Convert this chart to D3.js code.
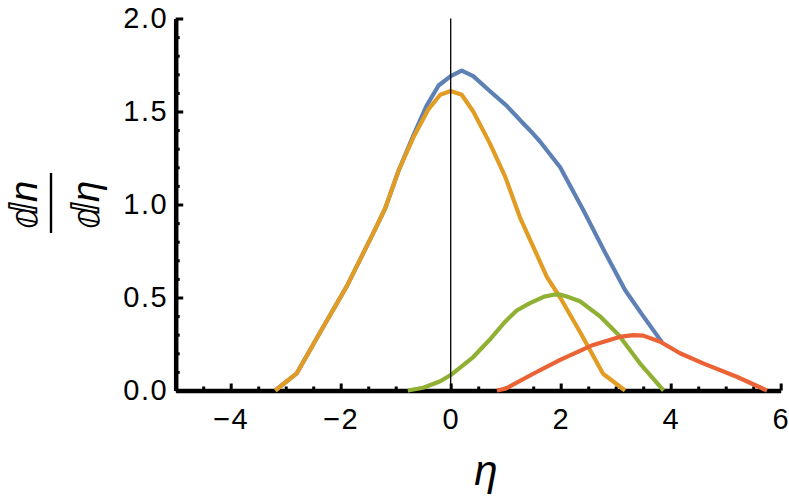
<!DOCTYPE html>
<html>
<head>
<meta charset="utf-8">
<script src="https://cdn.jsdelivr.net/npm/d3@7"></script>
<style>
  html, body { margin: 0; padding: 0; background: #fff; }
  svg { display: block; }
  .tick text { font-family: "Liberation Sans", Arial, sans-serif; font-size: 29px; letter-spacing: 1.5px; fill: #000; }
</style>
</head>
<body>
<svg id="chart" width="789" height="498"></svg>
<script>
// eta positions and dn/deta values, one pair of arrays per curve
const blueEta   = [-3.19, -2.8, -2.35, -1.89, -1.41, -1.19, -0.95, -0.68, -0.44, -0.22, 0, 0.2, 0.41, 0.71, 1.02, 1.29, 1.5, 1.62, 1.99, 2.41, 2.81, 3.17, 3.5, 3.84];
const blueVal   = [0, 0.092, 0.325, 0.56, 0.845, 0.98, 1.18, 1.37, 1.53, 1.64, 1.69, 1.72, 1.69, 1.61, 1.53, 1.445, 1.38, 1.34, 1.2, 0.97, 0.74, 0.54, 0.4, 0.26];

const orangeEta = [-3.19, -2.8, -2.35, -1.89, -1.41, -1.19, -0.95, -0.68, -0.41, -0.19, 0, 0.2, 0.41, 0.71, 0.99, 1.26, 1.75, 1.99, 2.38, 2.77, 3.17];
const orangeVal = [0, 0.092, 0.325, 0.56, 0.845, 0.98, 1.18, 1.36, 1.51, 1.59, 1.61, 1.59, 1.5, 1.33, 1.15, 0.93, 0.61, 0.5, 0.3, 0.09, 0];

const greenEta  = [-0.78, -0.5, -0.19, 0, 0.41, 0.7, 0.99, 1.2, 1.44, 1.7, 1.87, 2.0, 2.11, 2.35, 2.71, 3.05, 3.44, 3.84, 3.87];
const greenVal  = [0, 0.015, 0.05, 0.083, 0.18, 0.27, 0.37, 0.43, 0.47, 0.505, 0.515, 0.515, 0.505, 0.48, 0.4, 0.3, 0.146, 0.01, 0];

const redEta    = [0.84, 1.0, 1.5, 1.99, 2.59, 3.1, 3.32, 3.5, 3.81, 4.17, 4.59, 5.2, 5.75];
const redVal    = [0, 0.01, 0.09, 0.165, 0.245, 0.29, 0.298, 0.295, 0.262, 0.2, 0.146, 0.074, 0];

const xMajor = [-4, -2, 0, 2, 4, 6];
const xMinor = [-4.5, -3.5, -3, -2.5, -1.5, -1, -0.5, 0.5, 1, 1.5, 2.5, 3, 3.5, 4.5, 5, 5.5];
const yMajor = [0, 0.5, 1, 1.5, 2];
const yMinor = [0.1, 0.2, 0.3, 0.4, 0.6, 0.7, 0.8, 0.9, 1.1, 1.2, 1.3, 1.4, 1.6, 1.7, 1.8, 1.9];

const series = [
  { eta: blueEta,   val: blueVal,   color: "#5e81b5" },
  { eta: orangeEta, val: orangeVal, color: "#e19c24" },
  { eta: greenEta,  val: greenVal,  color: "#8fb032" },
  { eta: redEta,    val: redVal,    color: "#eb6235" }
];

const svg = d3.select("#chart");

const x = d3.scaleLinear().domain([-5, 6]).range([175.7, 780.7]);
const y = d3.scaleLinear().domain([0, 2]).range([390.5, 18.5]);

// axes, ticks pointing inward like Mathematica
const xAxisG = svg.append("g").attr("transform", `translate(0,${y(0)})`);
xAxisG.append("g")
  .call(d3.axisBottom(x).tickValues(xMinor).tickFormat("").tickSize(-4).tickSizeOuter(0))
  .call(g => g.select(".domain").remove())
  .call(g => g.selectAll(".tick line").attr("stroke-width", 3));
xAxisG.append("g")
  .call(d3.axisBottom(x).tickValues(xMajor).tickSize(-7).tickSizeOuter(0).tickPadding(17.5))
  .call(g => g.select(".domain").attr("stroke-width", 4.5))
  .call(g => g.selectAll(".tick line").attr("stroke-width", 3));

const yAxisG = svg.append("g").attr("transform", `translate(${x(-5)},0)`);
yAxisG.append("g")
  .call(d3.axisLeft(y).tickValues(yMinor).tickFormat("").tickSize(-4).tickSizeOuter(0))
  .call(g => g.select(".domain").remove())
  .call(g => g.selectAll(".tick line").attr("stroke-width", 3));
yAxisG.append("g")
  .call(d3.axisLeft(y).tickValues(yMajor).tickFormat(d3.format(".1f")).tickSize(-7.5).tickSizeOuter(0).tickPadding(7.5))
  .call(g => g.select(".domain").attr("stroke-width", 4.5))
  .call(g => g.selectAll(".tick line").attr("stroke-width", 3));

svg.selectAll(".tick text").attr("font-family", null).attr("font-size", null);

// curves
const line = d3.line()
  .x(d => x(d[0]))
  .y(d => y(d[1]));

svg.append("g")
  .selectAll("path")
  .data(series)
  .join("path")
  .attr("d", s => line(d3.zip(s.eta, s.val)))
  .attr("fill", "none")
  .attr("stroke", s => s.color)
  .attr("stroke-width", 4.2)
  .attr("stroke-linejoin", "round");

// thin line at eta = 0
svg.append("line")
  .attr("x1", x(0)).attr("x2", x(0))
  .attr("y1", y(2)).attr("y2", y(0))
  .attr("stroke", "#000")
  .attr("stroke-width", 1.3);

// axis labels
svg.append("text")
  .attr("x", 486)
  .attr("y", 485)
  .attr("text-anchor", "middle")
  .attr("font-family", "Liberation Sans, Arial, sans-serif")
  .attr("font-style", "italic")
  .attr("font-size", 42)
  .text("η");

const yLabel = svg.append("g")
  .attr("transform", "translate(51,203) rotate(-90)")
  .attr("font-family", "Liberation Sans, DejaVu Sans, sans-serif")
  .attr("font-style", "italic")
  .attr("font-size", 38)
  .attr("text-anchor", "middle");
yLabel.append("text").attr("x", -2).attr("y", -14).text("ⅆn");
yLabel.append("line")
  .attr("x1", -30).attr("x2", 30)
  .attr("stroke", "#000")
  .attr("stroke-width", 2.4);
yLabel.append("text").attr("x", -2).attr("y", 48).text("ⅆη");
</script>
</body>
</html>
